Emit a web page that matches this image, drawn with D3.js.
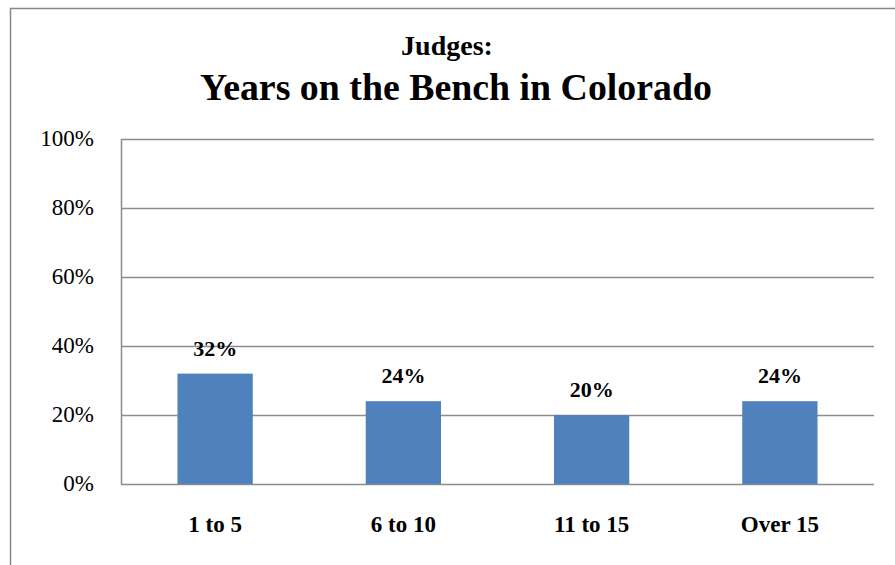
<!DOCTYPE html>
<html>
<head>
<meta charset="utf-8">
<script src="https://cdn.jsdelivr.net/npm/d3@7"></script>
<style>
  body { margin: 0; background: #fff; }
  text { font-family: "Liberation Serif", "DejaVu Serif", serif; fill: #000; }
</style>
</head>
<body>
<div id="chart"></div>
<script>
// data
const categories = ["1 to 5", "6 to 10", "11 to 15", "Over 15"];
const shares = [0.32, 0.24, 0.20, 0.24];
const yTicks = [0, 0.2, 0.4, 0.6, 0.8, 1.0];
const titleLines = ["Judges:", "Years on the Bench in Colorado"];

const width = 895;
const height = 565;
const margin = { top: 139, right: 21, bottom: 81, left: 121 };
const innerW = width - margin.left - margin.right;
const innerH = height - margin.top - margin.bottom;

const svg = d3.select("#chart")
  .append("svg")
  .attr("width", width)
  .attr("height", height);

// outer chart frame (runs off the right and bottom edges)
svg.append("rect")
  .attr("x", 10.5)
  .attr("y", 8.5)
  .attr("width", 900)
  .attr("height", 600)
  .attr("fill", "none")
  .attr("stroke", "#878787")
  .attr("stroke-width", 1.5);

svg.append("text")
  .attr("x", 447)
  .attr("y", 55)
  .attr("text-anchor", "middle")
  .style("font-size", "28px")
  .style("font-weight", "bold")
  .text(titleLines[0]);

svg.append("text")
  .attr("x", 456)
  .attr("y", 100)
  .attr("text-anchor", "middle")
  .style("font-size", "37px")
  .style("font-weight", "bold")
  .attr("textLength", 512)
  .attr("lengthAdjust", "spacingAndGlyphs")
  .text(titleLines[1]);

const g = svg.append("g")
  .attr("transform", `translate(${margin.left},${margin.top})`);

const x = d3.scaleBand()
  .domain(categories)
  .range([0, innerW])
  .paddingInner(0.6)
  .paddingOuter(0.3);

const y = d3.scaleLinear()
  .domain([0, 1])
  .range([innerH, 0]);

// gridlines
g.append("g")
  .selectAll("line")
  .data(yTicks)
  .enter()
  .append("line")
  .attr("x1", 0)
  .attr("x2", innerW)
  .attr("y1", (d) => Math.round(y(d)) + 0.5)
  .attr("y2", (d) => Math.round(y(d)) + 0.5)
  .attr("stroke", "#8c8c8c")
  .attr("stroke-width", 1.5);

// y axis line
g.append("line")
  .attr("x1", 0.5)
  .attr("x2", 0.5)
  .attr("y1", 0)
  .attr("y2", innerH)
  .attr("stroke", "#8c8c8c")
  .attr("stroke-width", 1.5);

// y tick labels
g.append("g")
  .selectAll("text")
  .data(yTicks)
  .enter()
  .append("text")
  .attr("x", -27)
  .attr("y", (d) => y(d))
  .attr("dy", "0.32em")
  .attr("text-anchor", "end")
  .style("font-size", "23px")
  .text(d3.format(".0%"));

// bars
g.selectAll("rect.bar")
  .data(shares)
  .enter()
  .append("rect")
  .attr("class", "bar")
  .attr("x", (d, i) => x(categories[i]))
  .attr("y", (d) => y(d))
  .attr("width", x.bandwidth())
  .attr("height", (d) => innerH - y(d))
  .attr("fill", "#4f81bd");

// value labels
g.selectAll("text.val")
  .data(shares)
  .enter()
  .append("text")
  .attr("class", "val")
  .attr("x", (d, i) => x(categories[i]) + x.bandwidth() / 2)
  .attr("y", (d) => y(d) - 18)
  .attr("text-anchor", "middle")
  .style("font-size", "22px")
  .style("font-weight", "bold")
  .text(d3.format(".0%"));

// category labels
g.selectAll("text.cat")
  .data(categories)
  .enter()
  .append("text")
  .attr("class", "cat")
  .attr("x", (d) => x(d) + x.bandwidth() / 2)
  .attr("y", innerH + 48)
  .attr("text-anchor", "middle")
  .style("font-size", "23px")
  .style("font-weight", "bold")
  .text((d) => d);
</script>
</body>
</html>
